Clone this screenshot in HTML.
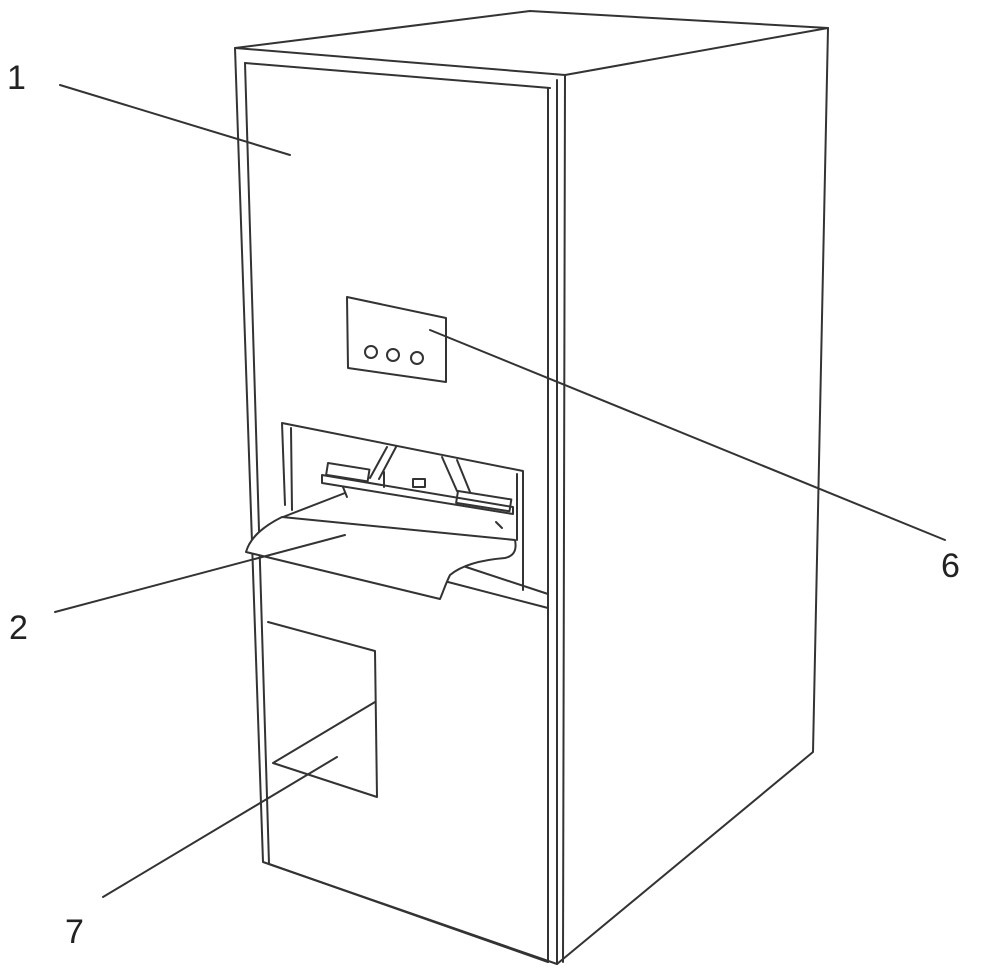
<!DOCTYPE html>
<html><head><style>html,body{margin:0;padding:0;background:#fff;}svg{display:block}</style></head>
<body>
<svg width="1000" height="976" viewBox="0 0 1000 976" xmlns="http://www.w3.org/2000/svg">
<g fill="none" stroke="#333" stroke-width="2" stroke-linejoin="round" stroke-linecap="round">
<polygon points="235,48 530,11 828,28 565,75" fill="#fff"/>
<polyline points="828,28 813,752 557,964"/>
<polyline points="235,48 263,862 557,964"/>
<line x1="565" y1="75" x2="563" y2="962"/>
<line x1="557" y1="80" x2="557" y2="964"/>
<line x1="548" y1="88" x2="548" y2="962"/>
<polyline points="245,63 550,88"/>
<line x1="245" y1="63" x2="269" y2="864"/>
<line x1="269" y1="864" x2="548" y2="962"/>
<polygon points="347,297 446,318 446,382 348,368"/>
<circle cx="371" cy="352" r="6"/><circle cx="393" cy="355" r="6"/><circle cx="417" cy="358" r="6"/>
<polyline points="285,505 282,423 523,471 523,590"/>
<line x1="291" y1="428" x2="292" y2="510"/>
<line x1="517" y1="474" x2="517" y2="540"/>
<line x1="460" y1="565" x2="548" y2="594"/>
<line x1="448" y1="582" x2="548" y2="608"/>
<line x1="267" y1="553" x2="282" y2="556"/>
<polygon points="322,475 513,507 513,514 322,483"/>
<rect x="328" y="463" width="42" height="12" transform="rotate(9 328 463)"/>
<rect x="458" y="491" width="54" height="12" transform="rotate(9 458 491)"/>
<line x1="387" y1="447" x2="370" y2="478"/><line x1="396" y1="447" x2="379" y2="479"/>
<line x1="442" y1="457" x2="457" y2="491"/><line x1="457" y1="460" x2="470" y2="492"/>
<rect x="413" y="479" width="12" height="8"/>
<line x1="384" y1="472" x2="384" y2="487"/>
<line x1="343" y1="487" x2="347" y2="497"/>
<line x1="496" y1="522" x2="502" y2="528"/>
<path d="M282,517 L515,540 C517,550 514,556 505,558 C480,560 462,565 450,575 C446,583 443,592 440,599 L246,552 C250,538 262,527 282,517 Z" fill="#fff"/>
<path d="M283,517 L345,493" />
<polyline points="268,622 375,651 377,797 273,763 375,702"/>
<line x1="60" y1="85" x2="290" y2="155"/>
<line x1="430" y1="330" x2="945" y2="540"/>
<line x1="55" y1="612" x2="345" y2="535"/>
<line x1="103" y1="897" x2="337" y2="757"/>
</g>
<g font-family="Liberation Sans, sans-serif" font-size="34" fill="#222">
<text x="7" y="89">1</text>
<text x="9" y="639">2</text>
<text x="941" y="577">6</text>
<text x="65" y="943">7</text>
</g>
</svg>
</body></html>
